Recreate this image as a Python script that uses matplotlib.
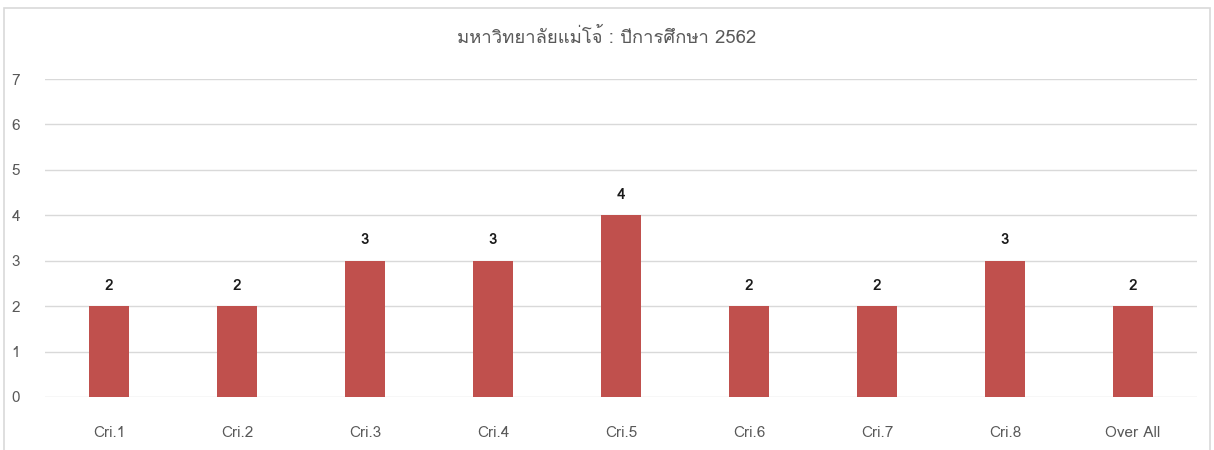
import matplotlib
matplotlib.use("Agg")
import matplotlib.pyplot as plt
from matplotlib import font_manager
from matplotlib.patches import Rectangle

categories = ["Cri.1", "Cri.2", "Cri.3", "Cri.4", "Cri.5", "Cri.6", "Cri.7", "Cri.8", "Over All"]
values = [2, 2, 3, 3, 4, 2, 2, 3, 2]
yticks = [0, 1, 2, 3, 4, 5, 6, 7]
title = "มหาวิทยาลัยแม่โจ้ : ปีการศึกษา 2562"

# find a font with Thai glyphs if any
thai_family = None
try:
    from fontTools.ttLib import TTFont
    for fe in font_manager.fontManager.ttflist:
        try:
            f = TTFont(fe.fname, fontNumber=0, lazy=True)
            cmap = f.getBestCmap()
            if cmap and 0x0E21 in cmap and 0x0E49 in cmap:
                thai_family = fe.name
                break
        except Exception:
            continue
except Exception:
    pass

fams = ([thai_family] if thai_family else []) + ["DejaVu Sans"]
plt.rcParams['font.family'] = fams

fig = plt.figure(figsize=(12.14, 4.5), dpi=100)
ax = fig.add_axes([45/1214, 1-397/450, (1197-45)/1214, (397-79)/450])

x = list(range(len(categories)))
ax.bar(x, values, width=0.3125, color="#C0504D", zorder=3)
for xi, v in zip(x, values):
    ax.text(xi, v + 0.3, str(v), ha="center", va="bottom", fontsize=11,
            color="#1a1a1a", fontweight="semibold", zorder=4)

ax.set_xlim(-0.5, len(categories) - 0.5)
ax.set_ylim(0, 7)
ax.set_yticks(yticks)
ax.set_xticks(x)
ax.set_xticklabels(categories)
ax.yaxis.grid(True, color="#d9d9d9", linewidth=1)
ax.set_axisbelow(True)
for s in ax.spines.values():
    s.set_visible(False)
ax.tick_params(axis="both", length=0, colors="#595959", labelsize=11)
ax.tick_params(axis="y", pad=21)
ax.tick_params(axis="x", pad=21)
for lbl in ax.get_yticklabels():
    lbl.set_horizontalalignment("center")

fig.text(607/1214, 1-37/450, title, ha="center", va="center", fontsize=13.3,
         color="#595959")

fig.patches.append(Rectangle((4/1214, -0.05), (1210-4)/1214, 1.05-8/450,
                             transform=fig.transFigure, fill=False,
                             edgecolor="#d9d9d9", linewidth=1.2))

fig.savefig("out.png", dpi=100)
